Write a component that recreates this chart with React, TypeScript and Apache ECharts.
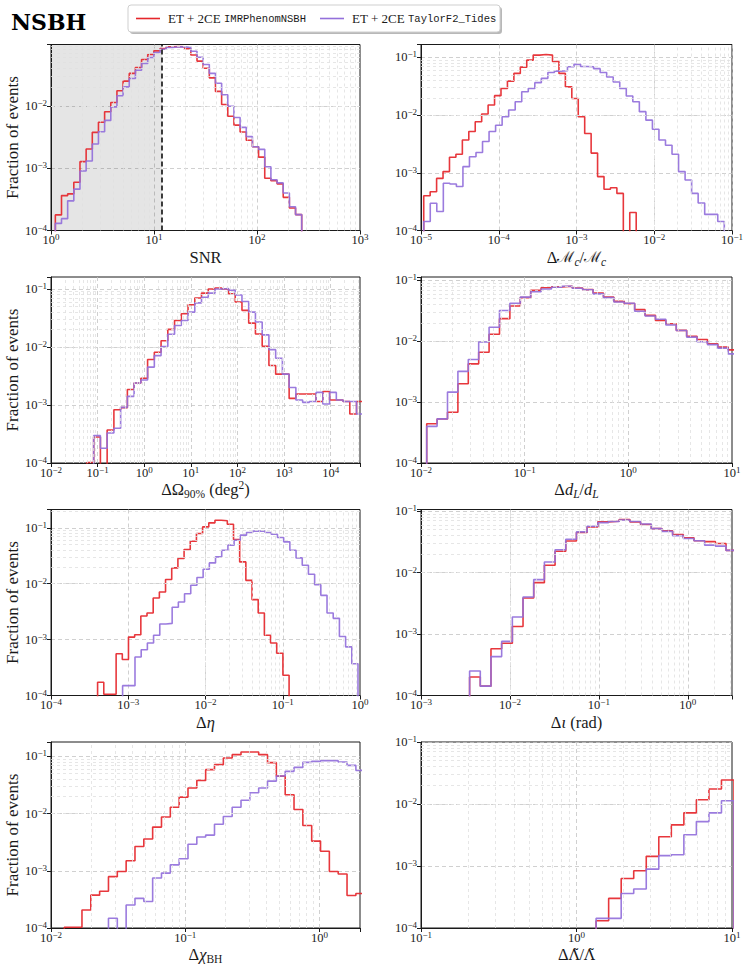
import React, { useEffect, useRef } from "react";
import * as echarts from "echarts";

const RED = "#e5262b";
const PURPLE = "#9370db";
const SERIF = "Liberation Serif";
const MONO = "Liberation Mono";
const INK = "#1a1a1a";

const figureTitle = "NSBH";
const legendSerif = ["ET + 2CE ", "ET + 2CE "];
const legendMono = ["IMRPhenomNSBH", "TaylorF2_Tides"];
const yAxisTitle = "Fraction of events";
const snrThreshold = 12;

// ---------- Panel 1: SNR ----------
const snrXRange = [1, 1000];
const snrYMax = 0.096;
const snrEdges = [1.102, 271.6];
const snrRed = [1.78e-4, 3.63e-4, 3.87e-4, 5.94e-4, 1.27e-3, 2.03e-3, 3.75e-3, 5.43e-3, 8.0e-3, 0.0113,
  0.0174, 0.0248, 0.033, 0.0411, 0.0552, 0.0664, 0.0759, 0.0828, 0.088, 0.089,
  0.088, 0.082, 0.065, 0.052, 0.04, 0.028, 0.017, 0.0105, 0.0068, 0.0049,
  0.0038, 0.0028, 0.0022, 0.0015, 6.9e-4, 6.3e-4, 5.6e-4, 3.4e-4, 2.3e-4, 1.8e-4];
const snrPurple = [1.3e-4, 1.55e-4, 2.99e-4, 4.6e-4, 9.0e-4, 1.3e-3, 2.44e-3, 3.84e-3, 5.83e-3, 9.6e-3,
  0.0145, 0.0201, 0.0274, 0.0372, 0.0476, 0.0594, 0.0714, 0.0807, 0.086, 0.088,
  0.088, 0.086, 0.075, 0.06, 0.046, 0.033, 0.023, 0.015, 0.0098, 0.0065,
  0.0045, 0.0032, 0.0022, 0.002, 1.05e-3, 6.5e-4, 5.8e-4, 4.0e-4, 2.4e-4, 1.8e-4];

// ---------- Panel 2: chirp mass ----------
const mcXRange = [1e-5, 0.1];
const mcYMax = 0.168;
const mcEdgesRed = [1.084e-5, 5.86e-3];
const mcEdgesPurple = [1.084e-5, 0.0796];
const mcRed = [4.0e-4, 4.7e-4, 8.0e-4, 1.05e-3, 1.86e-3, 2.1e-3, 3.7e-3, 5.2e-3, 7.7e-3, 0.0105,
  0.015, 0.0218, 0.029, 0.039, 0.053, 0.068, 0.09, 0.11, 0.113, 0.11,
  0.085, 0.053, 0.031, 0.0195, 9.4e-3, 4.8e-3, 2.2e-3, 8.6e-4, 5.2e-4, 5.5e-4,
  4.4e-4, 0, 2.05e-4];
const mcPurple = [1.43e-4, 2.97e-4, 2.13e-4, 6.6e-4, 6.4e-4, 5.8e-4, 1.28e-3, 1.9e-3, 2.25e-3, 3.5e-3,
  5.2e-3, 6.7e-3, 9.4e-3, 0.0123, 0.0171, 0.0255, 0.029, 0.0366, 0.0435, 0.055,
  0.058, 0.059, 0.069, 0.076, 0.07, 0.069, 0.064, 0.055, 0.046, 0.0377,
  0.029, 0.0215, 0.0171, 0.0115, 0.0082, 0.0057, 0.0037, 0.003, 0.0021, 0.00105,
  0.00075, 0.00044, 0.0003, 0.00019, 0.00019, 0.000143];

// ---------- Panel 3: sky area ----------
const skyXRange = [1e-2, 4.26e4];
const skyYMax = 0.161;
const skyEdges = [0.059, 5.01e4];
const skyRed = [1.02e-4, 2.8e-4, 0, 3.7e-4, 8.3e-4, 9.0e-4, 1.85e-3, 2.4e-3, 2.9e-3, 6.1e-3,
  8.1e-3, 0.0128, 0.0201, 0.0287, 0.0374, 0.0535, 0.0698, 0.085, 0.1, 0.104,
  0.1, 0.083, 0.0596, 0.0428, 0.0258, 0.0168, 0.0103, 0.0048, 0.0034, 0.0034,
  0.0013, 0.00155, 0.00155, 0.00155, 0.00115, 0.00171, 0.00122, 0.00122, 0.00115, 0.0007,
  0.00115];
const skyPurple = [0, 2.96e-4, 1.8e-4, 3.3e-4, 3.97e-4, 9.1e-4, 1.41e-3, 2.4e-3, 2.7e-3, 4.5e-3,
  7.1e-3, 0.0102, 0.0166, 0.0235, 0.0287, 0.04, 0.0577, 0.072, 0.085, 0.1,
  0.102, 0.095, 0.079, 0.061, 0.04, 0.027, 0.0162, 0.009, 0.0064, 0.0034,
  0.002, 0.00122, 0.00111, 0.00115, 0.00165, 0.00104, 0.00165, 0.00122, 0.00115, 0.00115,
  0.0007];

// ---------- Panel 4: luminosity distance ----------
const dlXRange = [1e-2, 10];
const dlYMax = 0.1135;
const dlEdges = [0.01135, 11.59];
const dlRed = [4.4e-4, 5.3e-4, 6.8e-4, 2.0e-3, 4.25e-3, 6.6e-3, 0.013, 0.0235, 0.038, 0.052,
  0.0685, 0.0757, 0.078, 0.08, 0.075, 0.0705, 0.062, 0.053, 0.0452, 0.0414,
  0.033, 0.0266, 0.022, 0.0194, 0.0151, 0.0121, 0.0107, 0.0091, 0.008, 0.0072];
const dlPurple = [4.0e-4, 5.3e-4, 1.46e-3, 3.2e-3, 5.0e-3, 9.7e-3, 0.017, 0.032, 0.042, 0.053,
  0.065, 0.072, 0.077, 0.08, 0.074, 0.07, 0.06, 0.052, 0.044, 0.042,
  0.031, 0.026, 0.023, 0.0185, 0.015, 0.0117, 0.0098, 0.0088, 0.0077, 0.0062];

// ---------- Panel 5: eta ----------
const etaXRange = [1e-4, 1];
const etaYMax = 0.213;
const etaEdgesRed = [4.01e-4, 0.1208];
const etaEdgesPurple = [8.45e-4, 0.942];
const etaRed = [1.73e-4, 1.05e-4, 1.05e-4, 5.6e-4, 4.4e-4, 1.11e-3, 1.22e-3, 2.65e-3, 3.0e-3, 5.56e-3,
  7.1e-3, 0.0119, 0.0192, 0.0282, 0.041, 0.0577, 0.079, 0.104, 0.123, 0.137,
  0.134, 0.116, 0.0618, 0.0246, 0.0115, 5.2e-3, 3.0e-3, 1.2e-3, 8.7e-4, 5.7e-4,
  2.3e-4];
const etaPurple = [1.5e-4, 1.5e-4, 4.9e-4, 6.6e-4, 8.7e-4, 1.2e-3, 1.9e-3, 1.95e-3, 3.8e-3, 4.7e-3,
  6.6e-3, 9.4e-3, 0.0129, 0.0182, 0.0236, 0.0303, 0.0398, 0.049, 0.06, 0.074,
  0.0826, 0.0873, 0.0873, 0.0826, 0.077, 0.0671, 0.0562, 0.0398, 0.029, 0.0214,
  0.0148, 0.0096, 0.0062, 0.003, 0.0024, 0.00114, 0.00074, 0.00037];

// ---------- Panel 6: inclination ----------
const iotaXRange = [1e-3, Math.PI];
const iotaYMax = 0.1065;
const iotaEdges = [3.52e-3, 3.55];
const iotaRed = [2.0e-4, 1.42e-4, 5.77e-4, 7.1e-4, 1.33e-3, 3.86e-3, 6.87e-3, 0.0132, 0.0223, 0.0328,
  0.0449, 0.0555, 0.067, 0.0685, 0.0731, 0.067, 0.0607, 0.0521, 0.048, 0.0417,
  0.037, 0.033, 0.032, 0.0297, 0.023];
const iotaPurple = [2.5e-4, 1.42e-4, 4.3e-4, 7.6e-4, 1.89e-3, 4.0e-3, 7.7e-3, 0.0149, 0.0235, 0.035,
  0.046, 0.057, 0.065, 0.068, 0.072, 0.068, 0.062, 0.052, 0.047, 0.04,
  0.036, 0.033, 0.028, 0.027, 0.023];

// ---------- Panel 7: BH spin ----------
const chiXRange = [1e-2, 2];
const chiYMax = 0.178;
const chiEdges = [0.01256, 2.168];
const chiRed = [1.03e-4, 1.03e-4, 2.06e-4, 3.75e-4, 4.4e-4, 7.9e-4, 9.7e-4, 1.5e-3, 2.65e-3, 3.6e-3,
  5.8e-3, 8.7e-3, 0.0129, 0.0194, 0.0279, 0.038, 0.0585, 0.0716, 0.0937, 0.107,
  0.119, 0.119, 0.107, 0.0776, 0.045, 0.0213, 0.0118, 6.2e-3, 3.3e-3, 2.2e-3,
  9.7e-4, 8.8e-4, 3.7e-4, 4.0e-4];
const chiPurple = [0, 0, 0, 0, 0, 1.48e-4, 0, 2.53e-4, 3.3e-4, 2.9e-4,
  7.5e-4, 9.1e-4, 1.27e-3, 1.62e-3, 2.9e-3, 3.9e-3, 4.2e-3, 6.5e-3, 8.9e-3, 0.0129,
  0.0171, 0.0231, 0.0279, 0.0369, 0.0452, 0.0546, 0.0641, 0.0785, 0.0817, 0.0841,
  0.0841, 0.0795, 0.0695, 0.0569];

// ---------- Panel 8: tidal deformability ----------
const lamXRange = [0.1, 10];
const lamYMax = 0.1;
const lamEdges = [1.337, 10.3];
const lamRed = [1.31e-4, 3.0e-4, 6.3e-4, 8.4e-4, 1.43e-3, 2.97e-3, 4.6e-3, 7.2e-3, 0.0117, 0.0175, 0.0244];
const lamPurple = [1.43e-4, 1.43e-4, 3.6e-4, 4.25e-4, 8.9e-4, 1.47e-3, 1.52e-3, 3.2e-3, 5.2e-3, 7.2e-3, 0.0113];

const xNames = [
  "{n|SNR}",
  "{n|Δ}{c|ℳ}{sbi|c}{n|/}{c|ℳ}{sbi|c}",
  "{n|ΔΩ}{sb|90%}{n| (deg}{sp|2}{n|)}",
  "{n|Δ}{i|d}{sbi|L}{n|/}{i|d}{sbi|L}",
  "{n|Δ}{i|η}",
  "{n|Δ}{i|ι}{n| (rad)}",
  "{n|Δ}{i|χ}{sb|BH}",
  "{n|Δ}{t|Λ\u0303}{n|/}{t|Λ\u0303}",
];

const panels = [
  { xr: snrXRange, yMax: snrYMax, red: [snrEdges, snrRed], purple: [snrEdges, snrPurple] },
  { xr: mcXRange, yMax: mcYMax, red: [mcEdgesRed, mcRed], purple: [mcEdgesPurple, mcPurple] },
  { xr: skyXRange, yMax: skyYMax, red: [skyEdges, skyRed], purple: [skyEdges, skyPurple] },
  { xr: dlXRange, yMax: dlYMax, red: [dlEdges, dlRed], purple: [dlEdges, dlPurple] },
  { xr: etaXRange, yMax: etaYMax, red: [etaEdgesRed, etaRed], purple: [etaEdgesPurple, etaPurple] },
  { xr: iotaXRange, yMax: iotaYMax, red: [iotaEdges, iotaRed], purple: [iotaEdges, iotaPurple] },
  { xr: chiXRange, yMax: chiYMax, red: [chiEdges, chiRed], purple: [chiEdges, chiPurple] },
  { xr: lamXRange, yMax: lamYMax, red: [lamEdges, lamRed], purple: [lamEdges, lamPurple] },
];

const Y_MIN = 1e-4;
const FLOOR = 1e-9;

function stepPoints(range: number[], values: number[]) {
  const n = values.length;
  const l0 = Math.log10(range[0]);
  const l1 = Math.log10(range[1]);
  const edges: number[] = [];
  for (let i = 0; i <= n; i++) edges.push(Math.pow(10, l0 + ((l1 - l0) * i) / n));
  const pts: number[][] = [[edges[0], FLOOR]];
  for (let i = 0; i < n; i++) {
    const v = values[i] > 0 ? values[i] : FLOOR;
    pts.push([edges[i], v]);
    pts.push([edges[i + 1], v]);
  }
  pts.push([edges[n], FLOOR]);
  return pts;
}

function minorValues(min: number, max: number) {
  const out: number[] = [];
  const e0 = Math.floor(Math.log10(min));
  const e1 = Math.ceil(Math.log10(max));
  for (let e = e0; e < e1; e++) {
    for (let m = 2; m <= 9; m++) {
      const v = m * Math.pow(10, e);
      if (v > min * 1.0001 && v < max * 0.9999) out.push(v);
    }
  }
  return out;
}

const tickRich = {
  b: { fontFamily: SERIF, fontSize: 12.5, lineHeight: 13, color: INK },
  s: { fontFamily: SERIF, fontSize: 9, lineHeight: 8, color: INK, padding: [0, 0, 6, 0] },
};

const nameRich = {
  n: { fontFamily: SERIF, fontSize: 16.5, lineHeight: 17, color: INK },
  i: { fontFamily: SERIF, fontSize: 16.5, lineHeight: 17, fontStyle: "italic", color: INK },
  c: { fontFamily: "DejaVu Serif", fontSize: 15, lineHeight: 17, color: INK },
  t: { fontFamily: "DejaVu Serif", fontSize: 15, lineHeight: 17, color: INK },
  sb: { fontFamily: SERIF, fontSize: 11.5, lineHeight: 11, color: INK, padding: [9, 0, 0, 0] },
  sbi: { fontFamily: SERIF, fontSize: 11.5, lineHeight: 11, fontStyle: "italic", color: INK, padding: [9, 0, 0, 0] },
  sp: { fontFamily: SERIF, fontSize: 11.5, lineHeight: 11, color: INK, padding: [0, 0, 10, 0] },
};

function powLabel(v: number) {
  const e = Math.log10(v);
  const r = Math.round(e);
  if (Math.abs(e - r) > 1e-6) return "";
  const s = r < 0 ? "\u2212" + -r : String(r);
  return "{b|10}{s|" + s + "}";
}

const colLeft = [51, 421];
const colWidth = [309, 311];
const rowTop = [44.5, 277, 509.5, 742];
const panelHeight = 186;

function buildOption() {
  const grids: any[] = [];
  const xAxes: any[] = [];
  const yAxes: any[] = [];
  const series: any[] = [];
  const splitStyle = { color: "#c4c4c4", type: [4, 3], width: 0.8 };

  panels.forEach((p, i) => {
    const col = i % 2;
    const row = Math.floor(i / 2);
    grids.push({
      left: colLeft[col],
      top: rowTop[row],
      width: colWidth[col],
      height: panelHeight,
      show: true,
      borderColor: INK,
      borderWidth: 1,
      backgroundColor: "transparent",
      containLabel: false,
      outerBoundsMode: "none",
    });
    xAxes.push({
      type: "log",
      logBase: 10,
      gridIndex: i,
      min: p.xr[0],
      max: p.xr[1],
      splitNumber: 10,
      axisLine: { show: true, onZero: false, lineStyle: { color: INK, width: 1 } },
      axisTick: { show: true, inside: false, length: 4, lineStyle: { color: INK } },
      axisLabel: { formatter: powLabel, rich: tickRich, margin: 3, hideOverlap: false },
      splitLine: { show: true, showMinLine: false, showMaxLine: false, lineStyle: splitStyle },
      minorTick: { show: false },
      name: xNames[i],
      nameLocation: "middle",
      nameGap: 18,
      nameMoveOverlap: false,
      nameTextStyle: { rich: nameRich },
    });
    yAxes.push({
      type: "log",
      logBase: 10,
      gridIndex: i,
      min: Y_MIN,
      max: p.yMax,
      splitNumber: 10,
      axisLine: { show: true, onZero: false, lineStyle: { color: INK, width: 1 } },
      axisTick: { show: true, inside: false, length: 4, lineStyle: { color: INK } },
      axisLabel: { formatter: powLabel, rich: tickRich, margin: 4, hideOverlap: false },
      splitLine: { show: true, showMinLine: false, showMaxLine: false, lineStyle: splitStyle },
      name: col === 0 ? yAxisTitle : "",
      nameLocation: "middle",
      nameGap: 29,
      nameTextStyle: { fontFamily: SERIF, fontSize: 17, color: INK },
    });

    const minorX = minorValues(p.xr[0], p.xr[1]);
    const minorY = minorValues(Y_MIN, p.yMax);
    series.push({
      type: "line",
      xAxisIndex: i,
      yAxisIndex: i,
      data: [[p.xr[0], FLOOR]],
      showSymbol: false,
      symbol: "none",
      lineStyle: { opacity: 0 },
      silent: true,
      z: 1,
      markLine: {
        silent: true,
        symbol: ["none", "none"],
        label: { show: false },
        emphasis: { disabled: true },
        lineStyle: { color: "#e0e0e0", type: [3, 3], width: 0.8 },
        data: [
          ...minorX.map((v) => ({ xAxis: v })),
          ...minorY.map((v) => ({ yAxis: v })),
        ],
      },
    });

    if (i === 0) {
      series.push({
        type: "line",
        xAxisIndex: i,
        yAxisIndex: i,
        data: [[p.xr[0], FLOOR]],
        showSymbol: false,
        symbol: "none",
        lineStyle: { opacity: 0 },
        silent: true,
        z: 2,
        markArea: {
          silent: true,
          itemStyle: { color: "rgba(0,0,0,0.1)" },
          data: [[{ xAxis: p.xr[0] }, { xAxis: snrThreshold }]],
        },
        markLine: {
          silent: true,
          symbol: ["none", "none"],
          label: { show: false },
          emphasis: { disabled: true },
          lineStyle: { color: "#000", type: [5, 3], width: 1.5 },
          data: [{ xAxis: snrThreshold }],
        },
      });
    }

    [
      { d: p.red, color: RED },
      { d: p.purple, color: PURPLE },
    ].forEach((s, k) => {
      series.push({
        type: "line",
        xAxisIndex: i,
        yAxisIndex: i,
        data: stepPoints(s.d[0] as number[], s.d[1] as number[]),
        showSymbol: false,
        symbol: "none",
        clip: true,
        silent: true,
        z: 3 + k,
        lineStyle: { color: s.color, width: 1.6, opacity: 0.92 },
        itemStyle: { color: s.color },
      });
    });
  });

  const legendX = 128;
  const legendY = 5;
  const legendW = 372;
  const legendH = 27;
  const legendRich = {
    a: { fontFamily: SERIF, fontSize: 13, fill: INK },
    b: { fontFamily: MONO, fontSize: 10.5, fill: INK },
  };

  const graphic: any[] = [
    {
      type: "text",
      left: 11,
      top: 11,
      style: { text: figureTitle, fontFamily: "DejaVu Serif", fontSize: 22, fontWeight: "bold", fill: "#000" },
    },
    {
      type: "rect",
      z: 100,
      silent: true,
      shape: { x: legendX + 2, y: legendY + 2, width: legendW, height: legendH, r: 3 },
      style: { fill: "rgba(0,0,0,0.28)" },
    },
    {
      type: "rect",
      z: 101,
      silent: true,
      shape: { x: legendX, y: legendY, width: legendW, height: legendH, r: 3 },
      style: { fill: "#ffffff", stroke: "#cfcfcf", lineWidth: 1 },
    },
    {
      type: "line",
      z: 102,
      silent: true,
      shape: { x1: legendX + 8, y1: legendY + 13.5, x2: legendX + 32, y2: legendY + 13.5 },
      style: { stroke: RED, lineWidth: 1.6 },
    },
    {
      type: "text",
      z: 102,
      silent: true,
      x: legendX + 40,
      y: legendY + 13.5,
      style: {
        text: "{a|" + legendSerif[0] + "}{b|" + legendMono[0] + "}",
        rich: legendRich,
        verticalAlign: "middle",
        align: "left",
      },
    },
    {
      type: "line",
      z: 102,
      silent: true,
      shape: { x1: legendX + 192, y1: legendY + 13.5, x2: legendX + 216, y2: legendY + 13.5 },
      style: { stroke: PURPLE, lineWidth: 1.6 },
    },
    {
      type: "text",
      z: 102,
      silent: true,
      x: legendX + 224,
      y: legendY + 13.5,
      style: {
        text: "{a|" + legendSerif[1] + "}{b|" + legendMono[1] + "}",
        rich: legendRich,
        verticalAlign: "middle",
        align: "left",
      },
    },
  ];

  return {
    animation: false,
    backgroundColor: "#ffffff",
    textStyle: { fontFamily: SERIF },
    grid: grids,
    xAxis: xAxes,
    yAxis: yAxes,
    series,
    graphic,
  };
}

export default function App() {
  const ref = useRef<HTMLDivElement>(null);
  useEffect(() => {
    if (!ref.current) return;
    const chart = echarts.init(ref.current, null, { renderer: "svg" });
    chart.setOption(buildOption() as any);
    return () => chart.dispose();
  }, []);
  return (
    <div
      ref={ref}
      style={{ width: 747, height: 971, position: "absolute", left: 0, top: 0 }}
    />
  );
}
